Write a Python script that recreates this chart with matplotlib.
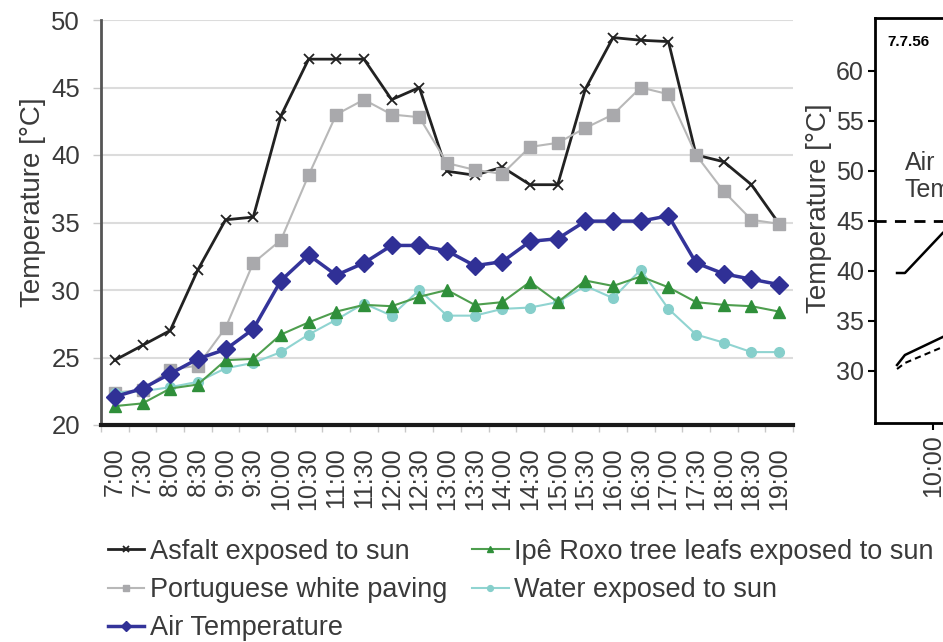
import numpy as np
import matplotlib
matplotlib.use("Agg")
import matplotlib.pyplot as plt

plt.rcParams['font.family'] = ['Liberation Sans', 'DejaVu Sans']

times = ["7:00", "7:30", "8:00", "8:30", "9:00", "9:30", "10:00", "10:30",
         "11:00", "11:30", "12:00", "12:30", "13:00", "13:30", "14:00", "14:30",
         "15:00", "15:30", "16:00", "16:30", "17:00", "17:30", "18:00", "18:30",
         "19:00"]

asfalt = [24.8, 25.9, 27.0, 31.5, 35.2, 35.4, 42.9, 47.1, 47.1, 47.1, 44.1, 45.0,
          38.8, 38.5, 39.1, 37.8, 37.8, 44.9, 48.7, 48.5, 48.4, 40.0, 39.5, 37.8, 34.9]
paving = [22.4, 22.6, 24.1, 24.4, 27.2, 32.0, 33.7, 38.5, 43.0, 44.1, 43.0, 42.8,
          39.4, 38.9, 38.6, 40.6, 40.9, 42.0, 43.0, 45.0, 44.5, 40.0, 37.3, 35.2, 34.9]
air = [22.1, 22.7, 23.8, 24.9, 25.6, 27.1, 30.7, 32.6, 31.1, 32.0, 33.3, 33.3,
       32.9, 31.8, 32.1, 33.6, 33.8, 35.1, 35.1, 35.1, 35.5, 32.0, 31.2, 30.8, 30.4]
ipe = [21.4, 21.6, 22.7, 23.0, 24.8, 24.9, 26.7, 27.6, 28.4, 28.9, 28.8, 29.5,
       30.0, 28.9, 29.1, 30.6, 29.1, 30.7, 30.3, 31.0, 30.2, 29.1, 28.9, 28.8, 28.4]
water = [22.4, 22.5, 22.8, 23.2, 24.2, 24.6, 25.4, 26.7, 27.8, 29.0, 28.1, 30.0,
         28.1, 28.1, 28.6, 28.7, 29.1, 30.3, 29.4, 31.5, 28.6, 26.7, 26.1, 25.4, 25.4]

# right-hand (cropped) panel, hours as decimals
r_hours = [9.667, 9.74, 10.09, 10.4]
r_top = [39.8, 39.8, 43.8, 46.5]
r_low_solid = [30.6, 31.6, 33.4, 35.0]
r_low_dash = [30.2, 30.8, 32.4, 34.0]
r_ref = 45

txt = '#3a3a3a'
fig = plt.figure(figsize=(9.43, 6.42), dpi=100)
W, H = 943, 642

ax = fig.add_axes([101 / W, (H - 425) / H, 692 / W, 405 / H])
x = np.arange(len(times))
ax.plot(x, asfalt, color='#222222', lw=2, marker='x', ms=7, mew=1.3,
        label='Asfalt exposed to sun', zorder=3)
ax.plot(x, paving, color='#b8b8b8', lw=1.5, marker='s', ms=8, mfc='#a9a9ac',
        mec='#a9a9ac', label='Portuguese white paving', zorder=3)
ax.plot(x, water, color='#90d4d1', lw=1.5, marker='o', ms=7, mfc='#86cfcb',
        mec='#86cfcb', label='Water exposed to sun', zorder=3)
ax.plot(x, ipe, color='#4e9e4e', lw=1.5, marker='^', ms=8, mfc='#2f8f3a',
        mec='#2f8f3a', label='Ipê Roxo tree leafs exposed to sun', zorder=4)
ax.plot(x, air, color='#34349a', lw=2.5, marker='D', ms=9, mfc='#303096',
        mec='#303096', label='Air Temperature', zorder=5)

ax.set_xlim(-0.5, len(times) - 0.5)
ax.set_ylim(20, 50)
ax.set_yticks(range(20, 51, 5))
ax.set_xticks(x)
ax.set_xticklabels(times, rotation=90, fontsize=18, color=txt)
ax.set_xticks(np.arange(-0.5, len(times), 1), minor=True)
ax.tick_params(axis='x', which='major', length=0, pad=16)
ax.tick_params(axis='x', which='minor', length=5, color='#c8c8c8', width=1)
ax.tick_params(axis='y', length=6, color='#c8c8c8', width=1, pad=9,
               labelsize=18.5, labelcolor=txt)
ax.grid(axis='y', color='#dcdcdc', lw=1.5)
ax.set_axisbelow(True)
for s in ['top', 'right']:
    ax.spines[s].set_visible(False)
ax.spines['left'].set_color('#555555')
ax.spines['left'].set_linewidth(2)
ax.spines['bottom'].set_color('#1a1a1a')
ax.spines['bottom'].set_linewidth(3)
ax.set_ylabel('Temperature [°C]', fontsize=20, color=txt)
ax.yaxis.set_label_coords(-0.079, 0.55)

h, l = ax.get_legend_handles_labels()
order = [0, 1, 4, 3, 2]
fig.legend([h[i] for i in order], [l[i] for i in order], ncol=2,
           loc='upper left', bbox_to_anchor=(97 / W, 1 - 528 / H),
           frameon=False, fontsize=19.5, handlelength=1.35, handletextpad=0.2,
           columnspacing=0.92, labelspacing=0.45, borderaxespad=0,
           markerscale=0.6, labelcolor=txt)

# cropped neighbouring panel
ax2 = fig.add_axes([875 / W, (H - 423) / H, 400 / W, 405 / H])
ax2.plot(r_hours, r_top, color='black', lw=1.8)
ax2.plot(r_hours, r_low_solid, color='black', lw=1.8)
ax2.plot(r_hours, r_low_dash, color='black', lw=1.5, ls=(0, (3, 2)))
ax2.axhline(r_ref, color='black', lw=2, ls=(0, (4, 3)))
ax2.set_xlim(9.463, 9.463 + 400 / 108)
ax2.set_ylim(24.8, 65.3)
ax2.set_yticks(range(30, 61, 5))
ax2.set_xticks([10])
ax2.set_xticklabels(['10:00'], rotation=90, fontsize=18, color=txt)
ax2.tick_params(length=5, width=1.5, labelsize=18, labelcolor=txt, pad=3)
for s in ax2.spines.values():
    s.set_linewidth(2)
ax2.set_ylabel('Temperature [°C]', fontsize=20, color=txt)
ax2.yaxis.set_label_coords(-0.108, 0.53)
ax2.text(9.58, 62.9, '7.7.56', fontsize=11, fontweight='bold', ha='left',
         va='center', color='black')
ax2.text(9.74, 50.8, 'Air', fontsize=18, ha='left', va='center', color=txt)
ax2.text(9.74, 48.1, 'Temperature', fontsize=18, ha='left', va='center', color=txt)

fig.savefig('out.png', dpi=100)
